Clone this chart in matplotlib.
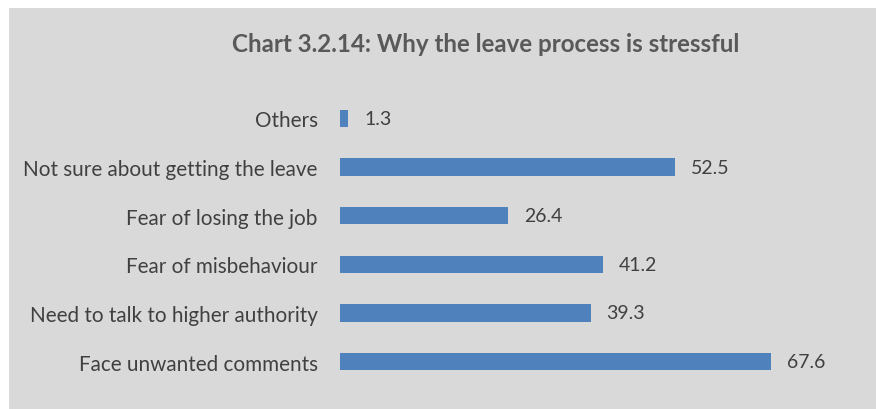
import matplotlib
matplotlib.use("Agg")
import matplotlib.pyplot as plt
from matplotlib.patches import Rectangle

categories = [
    "Others",
    "Not sure about getting the leave",
    "Fear of losing the job",
    "Fear of misbehaviour",
    "Need to talk to higher authority",
    "Face unwanted comments",
]
values = [1.3, 52.5, 26.4, 41.2, 39.3, 67.6]

BAR_COLOUR = "#4f81bd"
BG_COLOUR = "#d9d9d9"
TEXT_COLOUR = "#404040"

plt.rcParams["font.family"] = ["Lato", "DejaVu Sans"]

fig = plt.figure(figsize=(8.76, 4.10), dpi=100)
fig.patch.set_facecolor("white")
# grey chart area, inset from the top-left corner
fig.patches.append(Rectangle((9 / 876, 0), 1, 1 - 9 / 410, transform=fig.transFigure,
                             facecolor=BG_COLOUR, edgecolor="none", zorder=-10))

ax = fig.add_axes([340 / 876, 23 / 410, 510 / 876, 292 / 410])
ax.set_zorder(1)
ax.set_facecolor("none")

ypos = list(range(len(categories)))[::-1]
ax.barh(ypos, values, height=0.35, color=BAR_COLOUR)
for y, v in zip(ypos, values):
    ax.text(v + 2.5, y, f"{v:.1f}", va="center", ha="left", fontsize=14, color=TEXT_COLOUR)

ax.set_xlim(0, 80)
ax.set_ylim(-0.5, len(categories) - 0.5)
ax.set_yticks(ypos)
ax.set_yticklabels(categories, fontsize=14.9, color=TEXT_COLOUR)
ax.tick_params(axis="y", length=0, pad=16)
ax.set_xticks([])
for s in ax.spines.values():
    s.set_visible(False)

fig.text(486 / 876, 1 - 44 / 410, "Chart 3.2.14: Why the leave process is stressful",
         ha="center", va="center", fontsize=17.4, fontweight="bold", color="#595959")

fig.savefig("out.png", dpi=100)
